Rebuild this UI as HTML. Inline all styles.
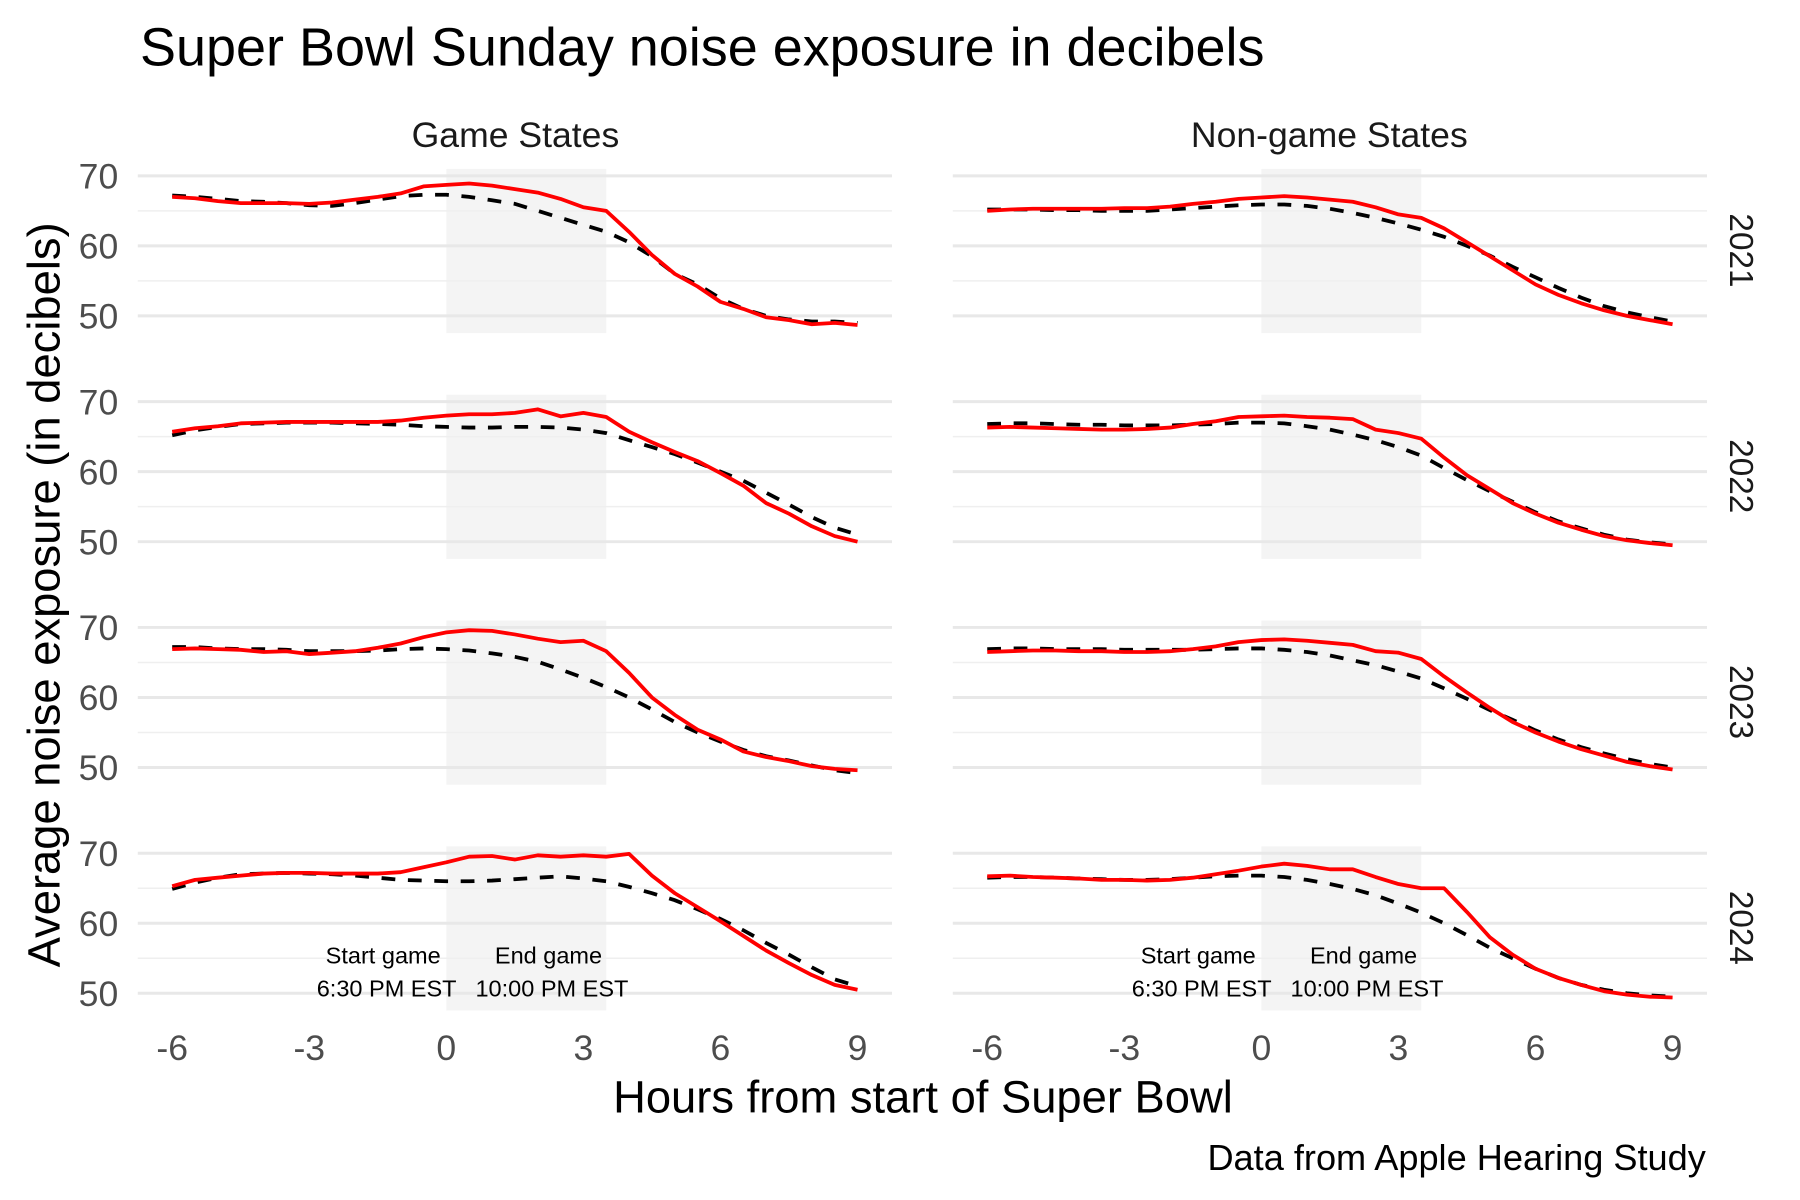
<!DOCTYPE html>
<html><head><meta charset="utf-8"><style>
html,body{margin:0;padding:0;background:#fff}
svg{display:block}
text{font-family:"Liberation Sans",sans-serif}
</style></head><body>
<svg id="s" width="1800" height="1200" viewBox="0 0 1568 1045" xmlns="http://www.w3.org/2000/svg">
<rect width="1568" height="1045" fill="#fff"/>
<text x="122" y="57" font-size="47" fill="#000">Super Bowl Sunday noise exposure in decibels</text>
<text x="449" y="128" font-size="31" text-anchor="middle" fill="#1a1a1a">Game States</text>
<text x="1158" y="128" font-size="31" text-anchor="middle" fill="#1a1a1a">Non-game States</text>
<g id="g"></g>
<text x="804" y="969" font-size="39.5" text-anchor="middle" fill="#000">Hours from start of Super Bowl</text>
<text transform="translate(52,518) rotate(-90)" font-size="39.5" text-anchor="middle" fill="#000">Average noise exposure (in decibels)</text>
<text x="1486" y="1019" font-size="31.5" text-anchor="end" fill="#000">Data from Apple Hearing Study</text>
</svg>
<script>
var D={
G:[
[[67,66.8,66.4,66.1,66.1,66.1,66,66.2,66.6,67,67.5,68.5,68.7,68.9,68.6,68.1,67.6,66.7,65.5,65,62,58.7,56,54.2,52,51,49.8,49.4,48.8,49,48.7],
 [67.2,67,66.7,66.4,66.3,66.1,65.8,65.7,66.1,66.6,67.1,67.3,67.3,67,66.5,66,65,64,63,62,60.5,58.5,56,54.5,52.5,51,50,49.5,49.2,49.2,49]],
[[65.7,66.2,66.5,66.9,67,67.1,67.1,67.1,67.1,67.1,67.3,67.7,68,68.2,68.2,68.4,68.9,67.9,68.4,67.8,65.7,64.2,62.8,61.5,59.8,58,55.5,54,52.2,50.8,50],
 [65.2,65.9,66.4,66.8,66.9,67,67,67,66.9,66.8,66.7,66.5,66.4,66.3,66.3,66.4,66.4,66.3,66,65.5,64.5,63.5,62.5,61.3,60,58.7,57,55.3,53.5,52,51]],
[[66.9,67,66.9,66.8,66.5,66.6,66.2,66.4,66.6,67.1,67.7,68.6,69.3,69.6,69.5,69,68.4,67.9,68.1,66.6,63.5,60,57.5,55.4,54,52.3,51.5,50.9,50.2,49.8,49.6],
 [67.2,67.2,67,66.9,66.9,66.8,66.6,66.6,66.6,66.7,66.9,67,66.9,66.7,66.3,65.8,65.1,64,62.8,61.5,60,58.3,56.5,55,53.7,52.5,51.6,51,50.3,49.6,49.2]],
[[65.3,66.2,66.5,66.8,67.1,67.2,67.2,67.1,67.1,67.1,67.3,68,68.7,69.5,69.6,69.1,69.7,69.5,69.7,69.5,69.9,66.8,64.3,62.3,60.3,58.2,56.1,54.3,52.6,51.2,50.5],
 [64.9,65.8,66.5,67,67.1,67.2,67.1,67,66.8,66.5,66.2,66.1,66,66,66.1,66.3,66.5,66.7,66.4,66,65.2,64.3,63.3,62,60.6,59,57.2,55.5,53.7,52,51]]],
N:[
[[65,65.2,65.3,65.3,65.3,65.3,65.4,65.4,65.6,66,66.3,66.7,66.9,67.1,66.9,66.6,66.3,65.5,64.5,64,62.5,60.5,58.5,56.5,54.5,53,51.8,50.8,50,49.4,48.8],
 [65.2,65.2,65.2,65.1,65.1,65,65,65,65.2,65.4,65.6,65.8,65.9,65.9,65.7,65.3,64.7,64,63.2,62.3,61.3,60,58.6,57,55.5,54,52.6,51.4,50.5,49.8,49.2]],
[[66.3,66.4,66.3,66.2,66.1,66,66,66.1,66.3,66.8,67.2,67.8,67.9,68,67.8,67.7,67.5,66,65.5,64.7,62,59.5,57.5,55.5,54,52.7,51.7,50.8,50.2,49.8,49.5],
 [66.8,66.9,66.9,66.8,66.7,66.7,66.6,66.6,66.6,66.7,66.8,67,67,66.9,66.5,66,65.3,64.5,63.5,62.3,60.5,58.8,57.2,55.7,54.2,52.9,51.9,51,50.3,49.9,49.6]],
[[66.5,66.6,66.7,66.7,66.6,66.6,66.5,66.5,66.6,66.9,67.3,67.9,68.2,68.3,68.1,67.8,67.5,66.6,66.4,65.5,63,60.7,58.5,56.5,55,53.7,52.6,51.7,50.8,50.2,49.7],
 [66.9,67,67,66.9,66.9,66.9,66.8,66.8,66.8,66.8,66.9,67,67,66.8,66.5,66,65.3,64.6,63.7,62.7,61.3,59.8,58.2,56.8,55.3,54,52.9,52,51.2,50.5,50]],
[[66.7,66.8,66.6,66.5,66.4,66.2,66.2,66.1,66.2,66.5,67,67.5,68.1,68.5,68.2,67.7,67.7,66.6,65.6,65,65,61.6,58,55.5,53.5,52.2,51.2,50.3,49.8,49.5,49.4],
 [66.5,66.6,66.6,66.5,66.4,66.3,66.2,66.2,66.3,66.5,66.7,66.8,66.8,66.6,66.2,65.6,64.9,64,62.8,61.5,60,58.3,56.5,55,53.5,52.2,51.2,50.5,50,49.7,49.5]]]};
var h='';
var panels=[{k:'G',x0:150,l:120,r:777},{k:'N',x0:860,l:830,r:1487}];
var yrs=['2021','2022','2023','2024'];
for(var p=0;p<2;p++){var P=panels[p];
 for(var r=0;r<4;r++){
  var base=153+r*196.7;
  var X=function(t){return P.x0+(t+6)*39.8};
  var Y=function(v){return base+(70-v)*6.1};
  h+='<rect x="'+X(0)+'" y="'+(base-6)+'" width="'+(39.8*3.5)+'" height="143" fill="#f4f4f4"/>';
  [65,55].forEach(function(v){h+='<line x1="'+P.l+'" x2="'+P.r+'" y1="'+Y(v)+'" y2="'+Y(v)+'" stroke="#efefef" stroke-width="1.3"/>'});
  [70,60,50].forEach(function(v){h+='<line x1="'+P.l+'" x2="'+P.r+'" y1="'+Y(v)+'" y2="'+Y(v)+'" stroke="#e8e8e8" stroke-width="2.6"/>';
   if(p==0)h+='<text x="103" y="'+(Y(v)+11)+'" font-size="31" text-anchor="end" fill="#4d4d4d">'+v+'</text>';});
  var d=D[P.k][r];
  var pth=function(a){var s='';for(var i=0;i<a.length;i++){s+=(i?'L':'M')+X(-6+i*0.5).toFixed(1)+','+Y(a[i]).toFixed(1)}return s};
  h+='<path d="'+pth(d[1])+'" fill="none" stroke="#000" stroke-width="3.3" stroke-dasharray="12,11"/>';
  h+='<path d="'+pth(d[0])+'" fill="none" stroke="#ff0000" stroke-width="3.3" stroke-linejoin="round"/>';
  if(p==1)h+='<text transform="translate(1507,'+(base+65)+') rotate(90)" font-size="29" text-anchor="middle" fill="#1a1a1a">'+yrs[r]+'</text>';
  if(r==3){
   h+='<text x="'+(X(0)-55)+'" y="839" font-size="20.5" text-anchor="middle" fill="#000">Start game</text>';
   h+='<text x="'+(X(0)-52)+'" y="868" font-size="20.5" text-anchor="middle" fill="#000">6:30 PM EST</text>';
   h+='<text x="'+(X(0)+89)+'" y="839" font-size="20.5" text-anchor="middle" fill="#000">End game</text>';
   h+='<text x="'+(X(0)+92)+'" y="868" font-size="20.5" text-anchor="middle" fill="#000">10:00 PM EST</text>';
   [-6,-3,0,3,6,9].forEach(function(t){h+='<text x="'+X(t)+'" y="923" font-size="31" text-anchor="middle" fill="#4d4d4d">'+t+'</text>'});
  }
 }}
document.getElementById('g').innerHTML=h;
</script>
</body></html>
